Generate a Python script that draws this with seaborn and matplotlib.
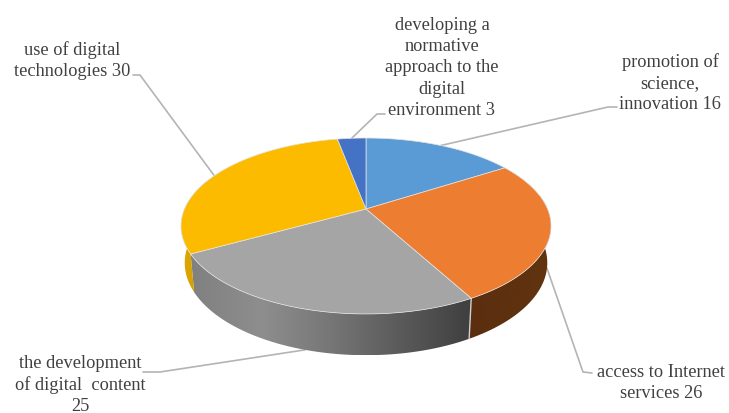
import numpy as np
import matplotlib
matplotlib.use("Agg")
import matplotlib.pyplot as plt
from matplotlib.patches import Polygon
import seaborn as sns

# Shares per activity, clockwise from twelve o'clock
categories = [
    "promotion of\nscience,\ninnovation",
    "access to Internet\nservices",
    "the development\nof digital  content\n",
    "use of digital\ntechnologies",
    "developing a\nnormative\napproach to the\ndigital\nenvironment",
]
values = [16, 26, 25, 30, 3]
top_colors = ["#5B9BD5", "#ED7D31", "#A5A5A5", "#FDBB00", "#4472C4"]
wall_ramps = [
    ["#3F6F9E", "#3F6F9E"],
    ["#5A2E0F", "#62340F"],
    ["#808080", "#8E8E8E", "#767676", "#5A5A5A", "#3F3F3F"],
    ["#E0A800", "#C99700"],
    ["#2F5597", "#2F5597"],
]

# Label placement: centre of the text block and the elbow of its leader line
label_centres = [(670, 83), (661, 383), (80, 385), (72, 61), (442, 68)]
leader_elbows = [[(617, 108), (608, 108)],
                 [(592, 374), (583, 373)],
                 [(143, 373), (160, 373)],
                 [(133, 76), (140, 76)],
                 [(385, 115), (377, 115)]]
leader_on_bottom_ring = [False, True, True, False, False]

# Perspective of the disc in pixel units
CX, CY = 366.0, 210.0
A, B, K = 181.5, 84.7, 0.193
BOTTOM_SX, BOTTOM_SY, BOTTOM_DY = 0.98, 1.05, 36.0


def top_ring(theta):
    den = 1 + K * np.cos(theta)
    return CX + A * np.sin(theta) / den, CY - B * np.cos(theta) / den


def bottom_ring(theta):
    x, y = top_ring(theta)
    return CX + (x - CX) * BOTTOM_SX, CY + BOTTOM_DY + (y - CY) * BOTTOM_SY


sns.set_theme(style="white")
plt.rcParams["font.family"] = ["Liberation Serif", "DejaVu Serif"]

fig = plt.figure(figsize=(7.29, 4.14), dpi=100, facecolor="white")
ax = fig.add_axes([0, 0, 1, 1])
ax.axis("off")

edges = np.concatenate([[0], np.cumsum(values)]) / sum(values) * 2 * np.pi

# Leader lines run underneath the disc
for i, (elbow, on_bottom) in enumerate(zip(leader_elbows, leader_on_bottom_ring)):
    mid = (edges[i] + edges[i + 1]) / 2
    end = bottom_ring(mid) if on_bottom else top_ring(mid)
    xs = [p[0] for p in elbow] + [end[0]]
    ys = [p[1] for p in elbow] + [end[1]]
    ax.plot(xs, ys, color="#B4B4B4", lw=1.2, zorder=1, solid_capstyle="round")

# Outer wall: only the part facing the viewer, shaded left to right
for i in range(len(values)):
    lo, hi = max(edges[i], np.radians(80)), min(edges[i + 1], np.radians(290))
    if hi <= lo:
        continue
    t = np.linspace(lo, hi, 200)
    tx, ty = top_ring(t)
    bx, by = bottom_ring(t)
    outline = np.column_stack([np.r_[tx, bx[::-1]], np.r_[ty, by[::-1]]])
    patch = Polygon(outline, closed=True, facecolor="none", edgecolor="none")
    ax.add_patch(patch)
    ramp = np.array(sns.blend_palette(wall_ramps[i], n_colors=256))[np.newaxis, :, :]
    extent = (outline[:, 0].min(), outline[:, 0].max(),
              outline[:, 1].max(), outline[:, 1].min())
    im = ax.imshow(ramp, extent=extent, aspect="auto", zorder=2, interpolation="bilinear")
    im.set_clip_path(patch)

# Pale seam where the grey and brown walls meet
seam = edges[2]
ax.plot(*zip(top_ring(seam), bottom_ring(seam)), color="#D0D0D0", lw=1.0, zorder=3)

# Top face
for i in range(len(values)):
    t = np.linspace(edges[i], edges[i + 1], 120)
    x, y = top_ring(t)
    ax.fill(np.r_[CX, x], np.r_[CY, y], facecolor=top_colors[i],
            edgecolor="#E4E4E4", lw=0.5, zorder=4, joinstyle="round")

# Labels carrying the value of each slice
for name, val, (x, y) in zip(categories, values, label_centres):
    text = f"{name}{val}" if name.endswith("\n") else f"{name} {val}"
    ax.text(x, y, text, ha="center", va="center", ma="center", fontsize=13.2,
            color="#404040", linespacing=1.31, zorder=5)

ax.set_xlim(0, 729)
ax.set_ylim(414, 0)

fig.savefig("out.png", dpi=100, facecolor="white")
